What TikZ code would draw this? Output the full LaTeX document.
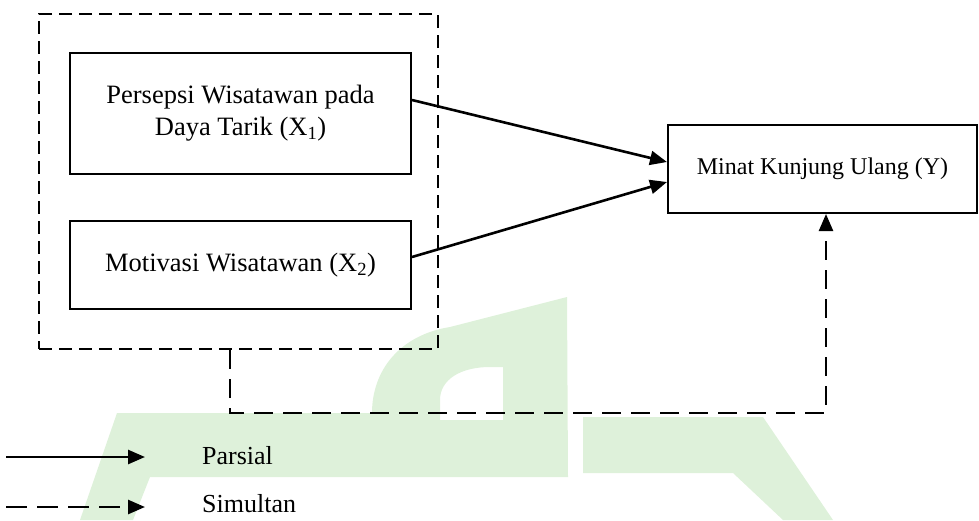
\documentclass[tikz,border=0pt]{standalone}
\usepackage{fontspec}
\setmainfont{Liberation Serif}
\usetikzlibrary{arrows.meta}
\definecolor{wm}{RGB}{222,241,218}
\begin{document}
\begin{tikzpicture}[x=1pt,y=-1pt,
  box/.style={draw,line width=2pt,inner sep=0pt,align=center,font=\fontsize{26.5}{32}\selectfont},
  grpbox/.style={draw,line width=2.2pt,dash pattern=on 13pt off 7pt,inner sep=0pt},
  tip/.style={-{Triangle[length=17pt,width=14pt]}},
  conn/.style={line width=2.6pt,tip},
  dconn/.style={line width=2.4pt,dash pattern=on 19pt off 10pt,tip},
  legtext/.style={anchor=west,inner sep=0pt,font=\fontsize{26}{30}\selectfont}]
\useasboundingbox (0,0) rectangle (979,520);
% watermark
\fill[wm,even odd rule] (80,520) -- (117,413) -- (372,413)
  .. controls (372,370) and (400,335) .. (450,327) -- (567,297) -- (568,477)
  -- (150,477) -- (133,520) -- cycle
  (440,420) -- (440,400) .. controls (440,380) and (460,367) .. (490,367)
  -- (503,367) -- (503,420) -- cycle;
\fill[wm] (583,417) -- (763,417) -- (833,520) -- (783,520) -- (733,473) -- (583,473) -- cycle;
% nodes
\node[grpbox,minimum width=399pt,minimum height=335pt] (grp) at (238.5,181.5) {};
\node[box,minimum width=341pt,minimum height=121pt] (b1) at (240.5,113.5)
  {Persepsi Wisatawan pada\\Daya Tarik (X\textsubscript{1})};
\node[box,minimum width=341pt,minimum height=88pt] (b2) at (240.5,265)
  {Motivasi Wisatawan (X\textsubscript{2})};
\node[box,minimum width=309pt,minimum height=88pt,font=\fontsize{24}{28}\selectfont] (Y) at (822.5,169)
  {Minat Kunjung Ulang (Y)};
% connectors
\draw[conn] ([yshift=13.5pt]b1.east) -- ([yshift=7pt]Y.west);
\draw[conn] ([yshift=8pt]b2.east) -- ([yshift=-13pt]Y.west);
\coordinate (c) at (230,413);
\draw[dconn] ([xshift=-8.5pt]grp.south) -- (c) -| ([xshift=3.5pt]Y.south);
% legend
\coordinate (l1s) at (6,457);
\coordinate (l1e) at (145,457);
\coordinate (l2s) at (6,507);
\coordinate (l2e) at (145,507);
\draw[conn] (l1s) -- (l1e);
\draw[line width=2.6pt,dash pattern=on 21pt off 10pt,tip] (l2s) -- (l2e);
\node[legtext] (lp) at (202,456) {Parsial};
\node[legtext] (ls) at (202,504) {Simultan};
\end{tikzpicture}
\end{document}
